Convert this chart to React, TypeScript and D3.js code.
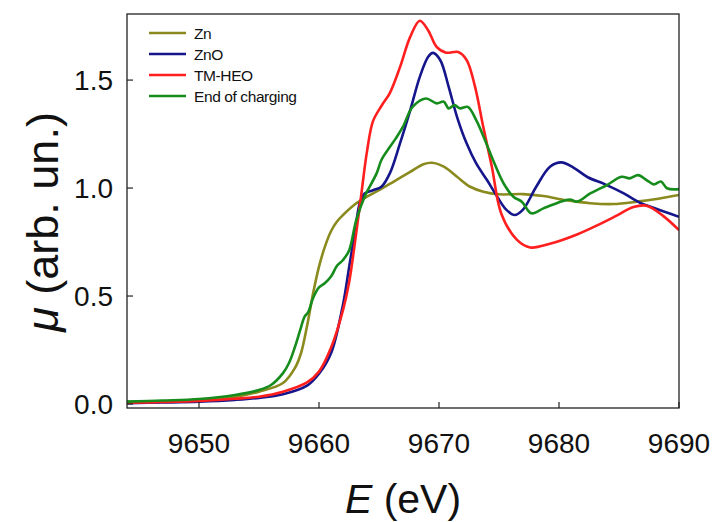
import React from "react";
import * as d3 from "d3";

const xTicks = [9650, 9660, 9670, 9680, 9690];
const yTicks = [0, 0.5, 1.0, 1.5];
const yTickLabels = ["0.0", "0.5", "1.0", "1.5"];

const seriesNames = ["Zn", "ZnO", "TM-HEO", "End of charging"];
const seriesColors = ["#8a8a1e", "#16168c", "#ff1f1f", "#168c1c"];

const znE = [9644, 9647, 9650, 9653, 9655, 9657, 9658, 9658.5, 9659, 9659.5, 9660, 9660.5, 9661, 9661.5, 9662, 9663, 9664, 9665, 9666.2, 9667.6, 9668.7, 9669.4, 9670.4, 9671.5, 9672.6, 9673.7, 9675, 9677, 9678.7, 9680.6, 9682.6, 9684.5, 9686.5, 9688.4, 9690];
const znMu = [0.01, 0.013, 0.018, 0.033, 0.057, 0.097, 0.167, 0.235, 0.36, 0.51, 0.636, 0.73, 0.8, 0.845, 0.875, 0.925, 0.96, 0.99, 1.029, 1.075, 1.11, 1.117, 1.099, 1.052, 1.006, 0.983, 0.971, 0.972, 0.963, 0.944, 0.93, 0.926, 0.937, 0.952, 0.968];

const znoE = [9644, 9647, 9650, 9653, 9655, 9657, 9659, 9660, 9661, 9662, 9662.5, 9663, 9663.4, 9663.8, 9664.5, 9665.2, 9665.9, 9666.75, 9667.6, 9668.4, 9669.1, 9669.5, 9670.1, 9670.8, 9671.5, 9672.3, 9673.1, 9674, 9674.8, 9675.6, 9676.3, 9677, 9678.1, 9679.25, 9680.2, 9681.2, 9682.4, 9683.8, 9685.4, 9686.75, 9688.1, 9690];
const znoMu = [0.004, 0.007, 0.011, 0.019, 0.028, 0.045, 0.085, 0.14, 0.235, 0.46, 0.63, 0.8, 0.93, 0.975, 0.99, 1.006, 1.068, 1.207, 1.36, 1.515, 1.608, 1.626, 1.593, 1.47, 1.33, 1.207, 1.114, 1.037, 0.965, 0.9, 0.875, 0.9, 1.006, 1.099, 1.119, 1.095, 1.05, 1.018, 0.975, 0.932, 0.904, 0.867];

const heoE = [9644, 9647, 9650, 9653, 9655, 9657, 9659, 9660, 9661, 9662, 9662.5, 9663, 9663.5, 9664, 9664.5, 9665.2, 9665.9, 9666.75, 9667.6, 9668.4, 9669.1, 9669.8, 9670.6, 9671.6, 9672.3, 9673, 9673.7, 9674.4, 9675.2, 9676.5, 9677.6, 9679.25, 9681.5, 9683.4, 9684.8, 9686.2, 9687.3, 9688.7, 9690];
const heoMu = [0.006, 0.009, 0.014, 0.024, 0.034, 0.057, 0.1, 0.15, 0.26, 0.435, 0.56, 0.75, 0.96, 1.17, 1.31, 1.38, 1.44, 1.56, 1.7, 1.775, 1.73, 1.654, 1.627, 1.63, 1.593, 1.47, 1.28, 1.1, 0.88, 0.76, 0.725, 0.742, 0.785, 0.833, 0.872, 0.912, 0.918, 0.87, 0.805];

const eocE = [9644, 9647, 9650, 9653, 9655, 9656, 9657, 9657.5, 9658, 9658.5, 9658.8, 9659.1, 9659.5, 9660, 9660.5, 9661, 9661.5, 9662, 9662.5, 9663.1, 9663.8, 9664.8, 9665.2, 9665.9, 9666.4, 9667, 9667.8, 9668.9, 9669.8, 9670.4, 9670.8, 9671.3, 9671.75, 9672.4, 9673.1, 9673.7, 9674.5, 9675.4, 9676.2, 9676.9, 9677.7, 9678.7, 9679.8, 9680.9, 9681.5, 9682.6, 9684, 9685.2, 9685.9, 9686.6, 9687.3, 9687.9, 9688.5, 9689, 9690];
const eocMu = [0.011, 0.016, 0.023, 0.042, 0.065, 0.088, 0.143, 0.19, 0.265, 0.355, 0.405, 0.425, 0.49, 0.54, 0.56, 0.59, 0.64, 0.667, 0.71, 0.85, 0.96, 1.068, 1.13, 1.19, 1.23, 1.284, 1.376, 1.415, 1.392, 1.4, 1.369, 1.384, 1.369, 1.376, 1.315, 1.24, 1.13, 1.02, 0.96, 0.937, 0.883, 0.906, 0.93, 0.947, 0.937, 0.975, 1.014, 1.052, 1.045, 1.06, 1.037, 1.017, 1.03, 0.999, 0.995];

const allE = [znE, znoE, heoE, eocE];
const allMu = [znMu, znoMu, heoMu, eocMu];

export default function App() {
  const W = 716, H = 522;
  const L = 127, R = 679, T = 14, B = 408;
  const x = d3.scaleLinear().domain([9644, 9690]).range([L, R]);
  const y = d3.scaleLinear().domain([-0.0185, 1.806]).range([B, T]);
  const line = d3.line<[number, number]>()
    .x((d) => x(d[0]))
    .y((d) => y(d[1]))
    .curve(d3.curveCatmullRom.alpha(0.5));
  const font = "'Liberation Sans', Arial, Helvetica, sans-serif";
  return (
    <svg width={W} height={H} style={{ position: "absolute", left: 0, top: 0 }} fontFamily={font}>
      <defs>
        <clipPath id="plotclip">
          <rect x={L} y={T} width={R - L} height={B - T} />
        </clipPath>
      </defs>
      <rect x={0} y={0} width={W} height={H} fill="#fff" />
      <g clipPath="url(#plotclip)">
        {allE.map((es, i) => (
          <path key={i} d={line(es.map((e, j) => [e, allMu[i][j]]) as [number, number][]) || ""}
            fill="none" stroke={seriesColors[i]} strokeWidth={2.6} strokeLinejoin="round" />
        ))}
      </g>
      <rect x={L} y={T} width={R - L} height={B - T} fill="none" stroke="#222" strokeWidth={1.3} />
      {xTicks.map((t) => (
        <g key={t}>
          <line x1={x(t)} x2={x(t)} y1={B} y2={B - 6} stroke="#222" strokeWidth={1.2} />
          <text x={x(t)} y={453} fontSize={28} textAnchor="middle" fill="#111">{t}</text>
        </g>
      ))}
      {yTicks.map((t, i) => (
        <g key={t}>
          <line x1={L} x2={L + 6} y1={y(t)} y2={y(t)} stroke="#222" strokeWidth={1.2} />
          <text x={113} y={y(t) + 10} fontSize={28} textAnchor="end" fill="#111">{yTickLabels[i]}</text>
        </g>
      ))}
      <text x={(L + R) / 2} y={513} fontSize={41} textAnchor="middle" fill="#111">
        <tspan fontStyle="italic">E</tspan> (eV)
      </text>
      <text transform={`translate(58, 222) rotate(-90)`} fontSize={45} textAnchor="middle" fill="#111">
        <tspan fontStyle="italic">μ</tspan> (arb. un.)
      </text>
      {seriesNames.map((n, i) => (
        <g key={n}>
          <line x1={149} x2={186} y1={33 + i * 21} y2={33 + i * 21} stroke={seriesColors[i]} strokeWidth={2.6} />
          <text x={194} y={33 + i * 21 + 5.5} fontSize={15.5} letterSpacing={-0.4} fill="#111">{n}</text>
        </g>
      ))}
    </svg>
  );
}
